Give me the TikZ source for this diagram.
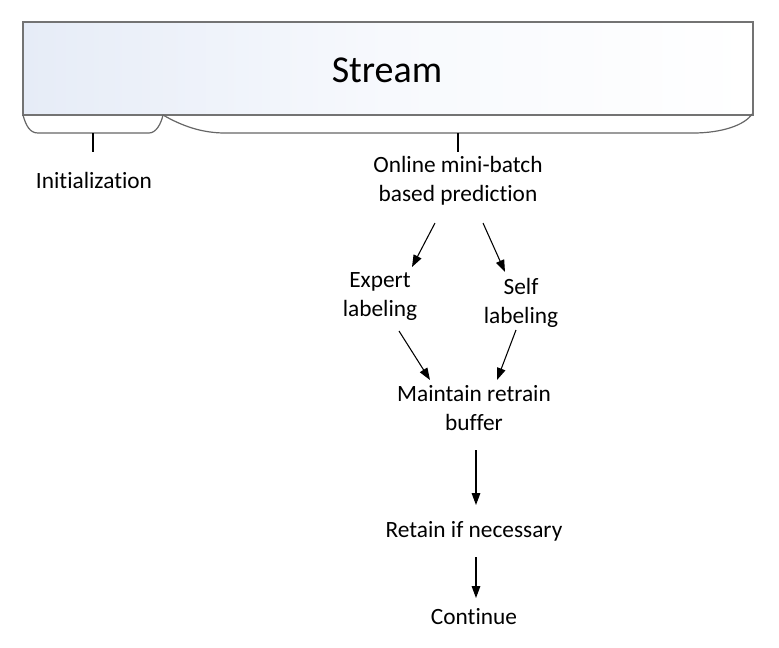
\documentclass[tikz,border=0pt]{standalone}
\usepackage{fontspec}
\setmainfont{Carlito}[Ligatures={NoCommon}]
\usetikzlibrary{arrows.meta,calc}
\definecolor{streamfill}{RGB}{230,236,247}
\definecolor{streammid}{RGB}{247,249,253}
\pgfdeclarehorizontalshading{streamshade}{100bp}{color(0bp)=(streamfill); color(25bp)=(streamfill); color(50bp)=(streammid); color(75bp)=(white); color(100bp)=(white)}
\begin{document}
\begin{tikzpicture}[x=0.75pt,y=-0.75pt,
  lbl/.style={align=center,font=\fontsize{17.5}{21.75}\selectfont,inner sep=0pt},
  arr/.style={line width=0.8pt,-{Triangle[length=9pt,width=6.5pt]}},
  brace/.style={draw=black!60,line width=0.9pt},
  tick/.style={line width=0.8pt}]
\useasboundingbox (0,0) rectangle (779,647);
\path[draw=black!55,line width=1.4pt,shading=streamshade] (23,22) rectangle (753,115);
\node (stream) at (387,70) {\fontsize{28.5}{34}\selectfont Stream};
\draw[brace] (23,115) .. controls (26,126) and (30,133) .. (38,133) -- (149,133) .. controls (156,133) and (161,124) .. (163,115);
\draw[brace] (163,115) .. controls (182,126) and (202,133) .. (225,133) -- (693,133) .. controls (722,133) and (745,125) .. (752,114);
\coordinate (initbrace) at (93,133);
\coordinate (predbrace) at (458,133);
\node[lbl] (init) at (94,180) {Initialization};
\node[lbl] (pred) at (458,181) {Online mini-batch\\based prediction};
\node[lbl] (expert) at (380,297) {Expert\\labeling};
\node[lbl] (self) at (521,303) {Self\\labeling};
\node[lbl] (maint) at (474,408) {Maintain retrain\\buffer};
\node[lbl] (retain) at (474,531) {Retain if necessary};
\node[lbl] (cont) at (474,617) {Continue};
\draw[tick] (initbrace) -- ++(0,19);
\draw[tick] (predbrace) -- ++(0,19);
\draw[arr] ($(pred)+(-23,42)$) -- ($(expert)+(32,-30)$);
\draw[arr] ($(pred)+(25,42)$) -- ($(self)+(-16,-31)$);
\draw[arr] ($(expert)+(19,34)$) -- ($(maint)+(-44,-28)$);
\draw[arr] ($(self)+(-5,27)$) -- ($(maint)+(23,-28)$);
\draw[arr] ($(maint)+(2,42)$) -- ($(retain)+(2,-26)$);
\draw[arr] ($(retain)+(2,26)$) -- ($(cont)+(2,-19)$);
\end{tikzpicture}
\end{document}
